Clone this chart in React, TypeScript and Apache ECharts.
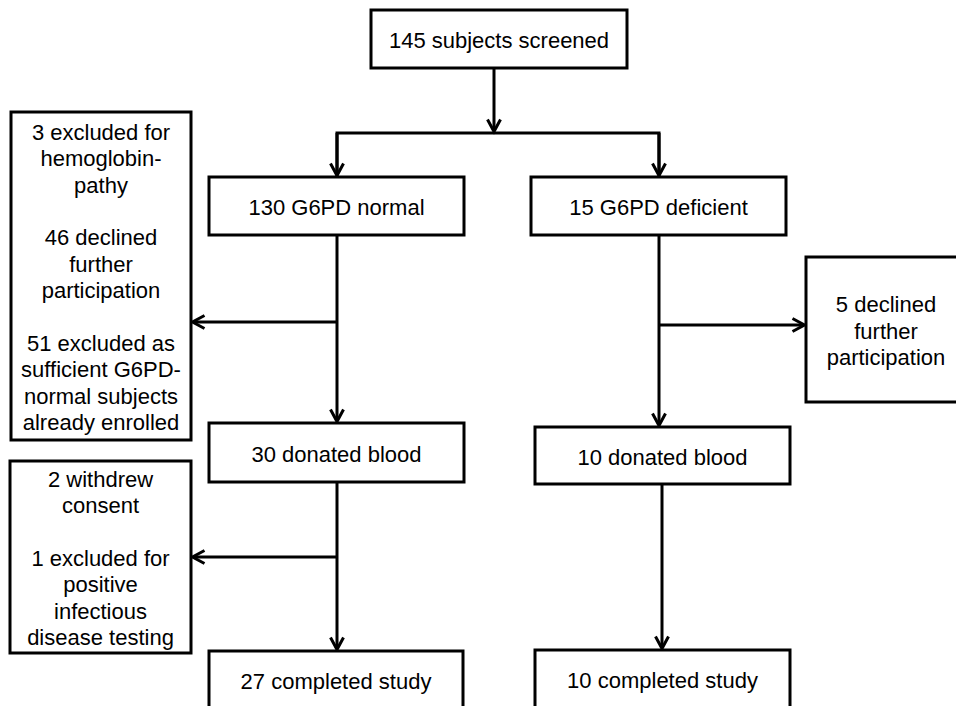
import React, { useEffect, useRef } from "react";
import * as echarts from "echarts";

// ---- content ----
const screenedLabel = "145 subjects screened";
const groupLabels = ["130 G6PD normal", "15 G6PD deficient"];
const donatedLabels = ["30 donated blood", "10 donated blood"];
const completedLabels = ["27 completed study", "10 completed study"];
const exclusionNormal1 = [
  "3 excluded for",
  "hemoglobin-",
  "pathy",
  "",
  "46 declined",
  "further",
  "participation",
  "",
  "51 excluded as",
  "sufficient G6PD-",
  "normal subjects",
  "already enrolled",
];
const exclusionNormal2 = [
  "2 withdrew",
  "consent",
  "",
  "1 excluded for",
  "positive",
  "infectious",
  "disease testing",
];
const exclusionDeficient = ["5 declined", "further", "participation"];

// ---- layout (positions / sizes) ----
const FONT = "22px 'Liberation Sans', Arial, sans-serif";
const LH = 26.4;
const LW = 3;
const INK = "#000";

type Box = { x: number; y: number; w: number; h: number; lines: string[] };

function boxEl(b: Box) {
  return [
    {
      type: "rect",
      shape: { x: b.x, y: b.y, width: b.w, height: b.h },
      style: { fill: "#fff", stroke: INK, lineWidth: LW },
    },
    {
      type: "text",
      x: b.x + b.w / 2,
      y: b.y + b.h / 2 + 1.5,
      style: {
        text: b.lines.join("\n"),
        font: FONT,
        fill: INK,
        align: "center",
        verticalAlign: "middle",
        lineHeight: LH,
      },
    },
  ];
}

function line(points: number[][]) {
  return {
    type: "polyline",
    shape: { points },
    style: { stroke: INK, lineWidth: LW, fill: null, lineJoin: "miter" },
  };
}

function arrow(x1: number, y1: number, x2: number, y2: number) {
  const dx = x2 - x1;
  const dy = y2 - y1;
  const len = Math.sqrt(dx * dx + dy * dy);
  const ux = dx / len;
  const uy = dy / len;
  const hl = 12;
  const hw = 6.5;
  const bx = x2 - ux * hl;
  const by = y2 - uy * hl;
  return [
    line([
      [x1, y1],
      [x2 - ux * 1, y2 - uy * 1],
    ]),
    line([
      [bx - uy * hw, by + ux * hw],
      [x2, y2],
      [bx + uy * hw, by - ux * hw],
    ]),
  ];
}

export default function App() {
  const ref = useRef<HTMLDivElement>(null);
  useEffect(() => {
    if (!ref.current) return;
    const chart = echarts.init(ref.current, null, { renderer: "svg" });

    const boxes: Box[] = [
      { x: 371, y: 10, w: 256, h: 58, lines: [screenedLabel] },
      { x: 209, y: 177, w: 255, h: 58, lines: [groupLabels[0]] },
      { x: 531, y: 177, w: 255, h: 58, lines: [groupLabels[1]] },
      { x: 11, y: 112, w: 180, h: 328, lines: exclusionNormal1 },
      { x: 806, y: 257, w: 160, h: 145, lines: exclusionDeficient },
      { x: 209, y: 423, w: 255, h: 59, lines: [donatedLabels[0]] },
      { x: 535, y: 427, w: 255, h: 57, lines: [donatedLabels[1]] },
      { x: 10, y: 461, w: 181, h: 192, lines: exclusionNormal2 },
      { x: 209, y: 651, w: 254, h: 57, lines: [completedLabels[0]] },
      { x: 535, y: 650, w: 255, h: 58, lines: [completedLabels[1]] },
    ];

    const elements: any[] = [];
    // connectors
    elements.push(...arrow(494, 68, 494, 131.5));
    elements.push(line([[337, 176], [337, 133], [659, 133], [659, 176]]));
    elements.push(...arrow(337, 133, 337, 175.5));
    elements.push(...arrow(659, 133, 659, 175.5));
    elements.push(...arrow(337, 235, 337, 421.5));
    elements.push(...arrow(336, 322, 192.5, 322));
    elements.push(...arrow(337, 482, 337, 649.5));
    elements.push(...arrow(336, 557, 192.5, 557));
    elements.push(...arrow(659, 235, 659, 425.5));
    elements.push(...arrow(659, 325, 804.5, 325));
    elements.push(...arrow(662, 484, 662, 648.5));
    // boxes
    boxes.forEach((b) => elements.push(...boxEl(b)));

    chart.setOption({
      animation: false,
      backgroundColor: "#fff",
      graphic: { elements },
    });
    return () => chart.dispose();
  }, []);

  return (
    <div
      ref={ref}
      style={{
        position: "fixed",
        left: 0,
        top: 0,
        width: 956,
        height: 706,
        background: "#fff",
      }}
    />
  );
}
